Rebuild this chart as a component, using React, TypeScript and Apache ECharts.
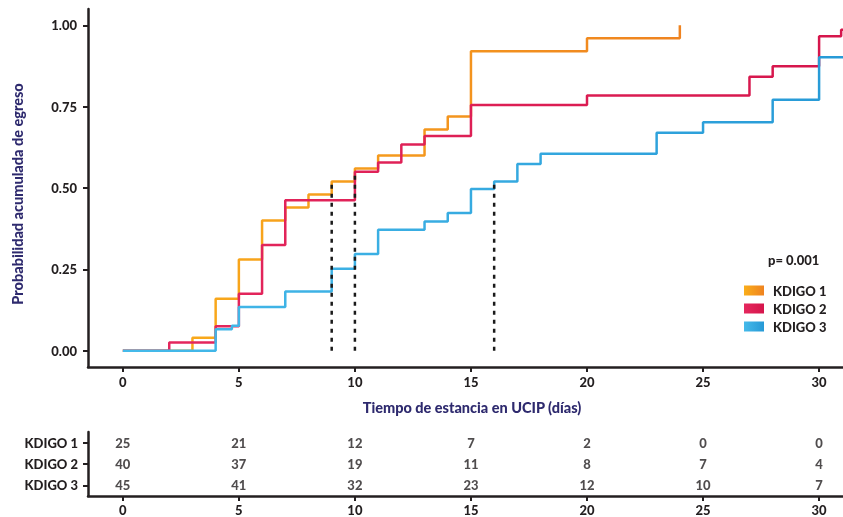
import React, { useEffect, useRef } from 'react';
import * as echarts from 'echarts';

// Cumulative discharge probability steps: [day, probability]
const kdigo1Steps: number[][] = [
  [0, 0], [3, 0.04], [4, 0.16], [5, 0.28], [6, 0.4], [7, 0.44], [8, 0.48], [9, 0.52],
  [10, 0.56], [11, 0.6], [13, 0.68], [14, 0.72], [15, 0.92], [20, 0.96], [24, 1.0],
];
const kdigo2Steps: number[][] = [
  [0, 0], [2, 0.025], [4, 0.075], [5, 0.175], [6, 0.325], [7, 0.462], [10, 0.55],
  [11, 0.578], [12, 0.634], [13, 0.66], [15, 0.755], [20, 0.784], [27, 0.842],
  [28, 0.874], [30, 0.966], [30.95, 0.986], [32, 0.986],
];
const kdigo3Steps: number[][] = [
  [0, 0], [4, 0.066], [4.7, 0.077], [5, 0.134], [7, 0.182], [9, 0.252], [10, 0.297],
  [11, 0.372], [13, 0.397], [14, 0.423], [15, 0.497], [16, 0.52], [17, 0.574],
  [18, 0.605], [23, 0.67], [25, 0.702], [28, 0.771], [30, 0.902], [32, 0.902],
];
// Median markers: [day, probability reached]
const medianDays = [9, 10, 16];
const medianLevels = [0.52, 0.55, 0.52];

const xTicks = [0, 5, 10, 15, 20, 25, 30];
const yTicks = [0, 0.25, 0.5, 0.75, 1.0];

const groups = ['KDIGO 1', 'KDIGO 2', 'KDIGO 3'];
const riskDays = [0, 5, 10, 15, 20, 25, 30];
const riskKdigo1 = [25, 21, 12, 7, 2, 0, 0];
const riskKdigo2 = [40, 37, 19, 11, 8, 7, 4];
const riskKdigo3 = [45, 41, 32, 23, 12, 10, 7];

const pValueText = 'p= 0.001';
const xTitle = 'Tiempo de estancia en UCIP (días)';
const yTitle = 'Probabilidad acumulada de egreso';

const INK = '#231F20';
const NAVY = '#2E2A6E';
const FONT = 'Lato';
const WEIGHT = 900;

const grad = (a: string, b: string) =>
  new echarts.graphic.LinearGradient(0, 0, 1, 0, [
    { offset: 0, color: a },
    { offset: 1, color: b },
  ]);

export default function App() {
  const ref = useRef<HTMLDivElement>(null);
  useEffect(() => {
    if (!ref.current) return;
    const chart = echarts.init(ref.current, undefined, { renderer: 'svg' });
    const cOrange = grad('#FAAE1A', '#EF8320');
    const cRed = grad('#E5285E', '#D5154B');
    const cBlue = grad('#45BAEA', '#2699D6');
    const colors = [cOrange, cRed, cBlue];
    const stepsAll = [kdigo1Steps, kdigo2Steps, kdigo3Steps];
    const riskAll = [riskKdigo1, riskKdigo2, riskKdigo3];

    const axisLine = { show: true, lineStyle: { color: INK, width: 2.5 } };
    const labelStyle = { color: INK, fontFamily: FONT, fontWeight: WEIGHT as any, fontSize: 13 };

    const lineSeries = stepsAll.map((d, i) => ({
      name: groups[i],
      type: 'line',
      step: 'end',
      xAxisIndex: 0,
      yAxisIndex: 0,
      data: d,
      symbol: 'none',
      color: colors[i],
      lineStyle: { color: colors[i], width: 2.5 },
      clip: true,
      z: 3,
    }));

    const medianSeries = medianDays.map((d, i) => ({
      name: 'median' + i,
      type: 'line',
      xAxisIndex: 0,
      yAxisIndex: 0,
      data: [[d, 0], [d, medianLevels[i]]],
      symbol: 'none',
      lineStyle: { color: '#1A1A1A', width: 2.5, type: [4, 5] },
      z: 4,
    }));

    const riskSeries = riskAll.map((vals, i) => ({
      name: 'risk' + i,
      type: 'scatter',
      xAxisIndex: 1,
      yAxisIndex: 1,
      symbolSize: 0,
      data: vals.map((v, j) => [riskDays[j], i, v]),
      label: {
        show: true,
        position: 'inside',
        formatter: (p: any) => String(p.value[2]),
        ...labelStyle,
      },
    }));

    chart.setOption({
      animation: false,
      textStyle: { fontFamily: FONT },
      grid: [
        { left: 88, right: 0, top: 9, height: 358 },
        { left: 88, right: 0, top: 432, height: 64 },
      ],
      xAxis: [
        {
          gridIndex: 0,
          type: 'value',
          min: -1.5,
          max: 31.03,
          axisLine: { ...axisLine, onZero: false },
          splitLine: { show: false },
          axisTick: { show: true, length: 5, lineStyle: { color: INK, width: 2 }, customValues: xTicks },
          axisLabel: { ...labelStyle, margin: 8, customValues: xTicks },
        },
        {
          gridIndex: 1,
          type: 'value',
          min: -1.5,
          max: 31.03,
          axisLine: { ...axisLine, onZero: false },
          splitLine: { show: false },
          axisTick: { show: true, length: 5, lineStyle: { color: INK, width: 2 }, customValues: xTicks },
          axisLabel: { ...labelStyle, margin: 7, customValues: xTicks },
        },
      ],
      yAxis: [
        {
          gridIndex: 0,
          type: 'value',
          min: -0.05,
          max: 1.05,
          axisLine: { ...axisLine, onZero: false },
          splitLine: { show: false },
          axisTick: { show: true, length: 5, lineStyle: { color: INK, width: 2 }, customValues: yTicks },
          axisLabel: {
            ...labelStyle,
            margin: 11,
            customValues: yTicks,
            formatter: (v: number) => v.toFixed(2),
          },
        },
        {
          gridIndex: 1,
          type: 'category',
          inverse: true,
          data: groups,
          axisLine: { ...axisLine, onZero: false },
          splitLine: { show: false },
          axisTick: { show: true, length: 5, alignWithLabel: true, interval: 0, lineStyle: { color: INK, width: 2 } },
          axisLabel: { ...labelStyle, margin: 10, interval: 0 },
        },
      ],
      legend: {
        orient: 'vertical',
        left: 739,
        top: 279,
        itemWidth: 20,
        itemHeight: 10,
        itemGap: 5,
        icon: 'rect',
        data: groups.map((g, i) => ({ name: g, itemStyle: { color: colors[i] } })),
        textStyle: { ...labelStyle, lineHeight: 13, padding: [0, 0, 0, 4] },
      },
      graphic: [
        {
          type: 'text',
          left: 768,
          top: 253,
          style: { text: pValueText, fill: INK, font: `${WEIGHT} 13px ${FONT}` },
        },
        {
          type: 'text',
          x: 472,
          y: 407,
          style: { text: xTitle, fill: NAVY, font: `${WEIGHT} 14.5px ${FONT}`, align: 'center', verticalAlign: 'middle' },
        },
        {
          type: 'text',
          x: 17,
          y: 194,
          rotation: Math.PI / 2,
          style: { text: yTitle, fill: NAVY, font: `${WEIGHT} 14.5px ${FONT}`, align: 'center', verticalAlign: 'middle' },
        },
      ],
      series: [...lineSeries, ...medianSeries, ...riskSeries],
    });
    return () => chart.dispose();
  }, []);
  return <div ref={ref} style={{ position: 'fixed', left: 0, top: 0, width: 843, height: 517 }} />;
}
